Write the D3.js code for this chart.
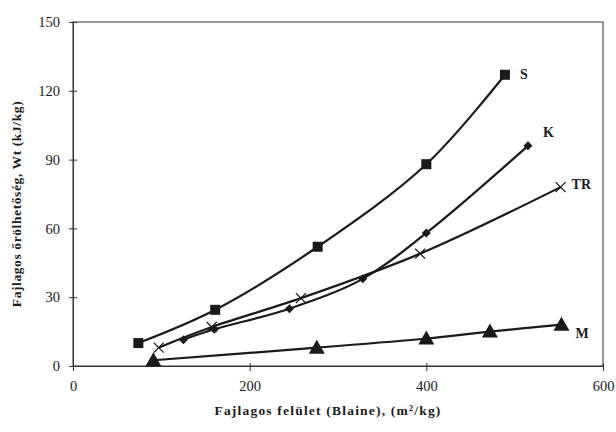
<!DOCTYPE html>
<html>
<head>
<meta charset="utf-8">
<script src="https://cdn.jsdelivr.net/npm/d3@7"></script>
<style>
  html, body { margin: 0; padding: 0; background: #fff; }
  svg { display: block; }
</style>
</head>
<body>
<svg id="chart" width="616" height="432"></svg>
<script>
// ---- data ----
const xTicks = [0, 200, 400, 600];
const yTicks = [0, 30, 60, 90, 120, 150];

const sX = [74, 161, 277, 400, 489];
const sY = [10, 24.5, 52, 88, 127];

const kX = [125, 160, 245, 328, 400, 515];
const kY = [11.5, 16, 25, 38, 58, 96];

const trX = [97, 157, 258, 393, 552];
const trY = [8, 17, 29.6, 49, 78];

const mX = [91, 276, 400, 472, 553];
const mY = [2.5, 8, 12, 15, 18];

const seriesNames = ["S", "K", "TR", "M"];
const xTitle = "Fajlagos felület (Blaine), (m²/kg)";
const yTitle = "Fajlagos őrölhetőség, Wt (kJ/kg)";

// ---- layout ----
const svg = d3.select("#chart");
const pL = 73, pR = 603, pT = 22, pB = 366;
const x = d3.scaleLinear().domain([0, 600]).range([pL, pR]);
const y = d3.scaleLinear().domain([0, 150]).range([pB, pT]);
const ink = "#1a1a1a";
const serif = "'Liberation Serif', 'Times New Roman', serif";

// frame
svg.append("rect")
  .attr("x", pL).attr("y", pT)
  .attr("width", pR - pL).attr("height", pB - pT)
  .attr("fill", "none").attr("stroke", "#333").attr("stroke-width", 1);

// axes
const gx = svg.append("g").attr("transform", `translate(0,${pB})`)
  .call(d3.axisBottom(x).tickValues(xTicks).tickSize(5).tickPadding(10).tickFormat(d3.format("d")));
const gy = svg.append("g").attr("transform", `translate(${pL},0)`)
  .call(d3.axisLeft(y).tickValues(yTicks).tickSize(4).tickPadding(9).tickFormat(d3.format("d")));

[gx, gy].forEach(g => {
  g.select(".domain").attr("stroke", "#333");
  g.selectAll(".tick line").attr("stroke", "#333");
  g.selectAll(".tick text")
    .attr("font-family", serif).attr("font-size", 14.5).attr("fill", ink);
});
gx.selectAll(".tick line").attr("y1", -3);
gy.selectAll(".tick line").attr("x1", 4);

// line generator
const line = d3.line().x(d => x(d[0])).y(d => y(d[1])).curve(d3.curveCatmullRom.alpha(0.5));

const zip = (xs, ys) => xs.map((v, i) => [v, ys[i]]);
const sData = zip(sX, sY), kData = zip(kX, kY), trData = zip(trX, trY), mData = zip(mX, mY);

[sData, kData, trData, mData].forEach(d => {
  svg.append("path").datum(d).attr("d", line)
    .attr("fill", "none").attr("stroke", ink).attr("stroke-width", 2.2)
    .attr("stroke-linejoin", "round");
});

// markers
// S: squares
svg.append("g").selectAll("rect").data(sData).join("rect")
  .attr("x", d => x(d[0]) - 5).attr("y", d => y(d[1]) - 5)
  .attr("width", 10).attr("height", 10).attr("fill", ink);

// K: diamonds
svg.append("g").selectAll("path").data(kData).join("path")
  .attr("transform", d => `translate(${x(d[0])},${y(d[1])})`)
  .attr("d", "M0,-4.5L4.5,0L0,4.5L-4.5,0Z").attr("fill", ink);

// TR: crosses
svg.append("g").selectAll("path").data(trData).join("path")
  .attr("transform", d => `translate(${x(d[0])},${y(d[1])})`)
  .attr("d", "M-5,-5L5,5M-5,5L5,-5").attr("stroke", ink).attr("stroke-width", 1.3).attr("fill", "none");

// M: triangles
svg.append("g").selectAll("path").data(mData).join("path")
  .attr("transform", d => `translate(${x(d[0])},${y(d[1])})`)
  .attr("d", "M0,-8L8,6L-8,6Z").attr("fill", ink);

// series labels
const labelPos = [
  { n: seriesNames[0], px: sX[4], py: sY[4], dx: 15, dy: 4 },
  { n: seriesNames[1], px: kX[5], py: kY[5], dx: 15, dy: -9 },
  { n: seriesNames[2], px: trX[4], py: trY[4], dx: 11, dy: 2 },
  { n: seriesNames[3], px: mX[4], py: mY[4], dx: 14, dy: 13 }
];
svg.append("g").selectAll("text").data(labelPos).join("text")
  .attr("x", d => x(d.px) + d.dx).attr("y", d => y(d.py) + d.dy)
  .attr("font-family", serif).attr("font-size", 14).attr("font-weight", "bold")
  .attr("fill", ink).text(d => d.n);

// axis titles
svg.append("text")
  .attr("x", 328).attr("y", 415).attr("text-anchor", "middle")
  .attr("font-family", serif).attr("font-size", 13.5).attr("font-weight", "bold")
  .attr("letter-spacing", 1.2).attr("fill", ink).text(xTitle);

svg.append("text")
  .attr("transform", "translate(21,204) rotate(-90)").attr("text-anchor", "middle")
  .attr("font-family", serif).attr("font-size", 13.5).attr("font-weight", "bold")
  .attr("letter-spacing", 0.6).attr("fill", ink).text(yTitle);
</script>
</body>
</html>
